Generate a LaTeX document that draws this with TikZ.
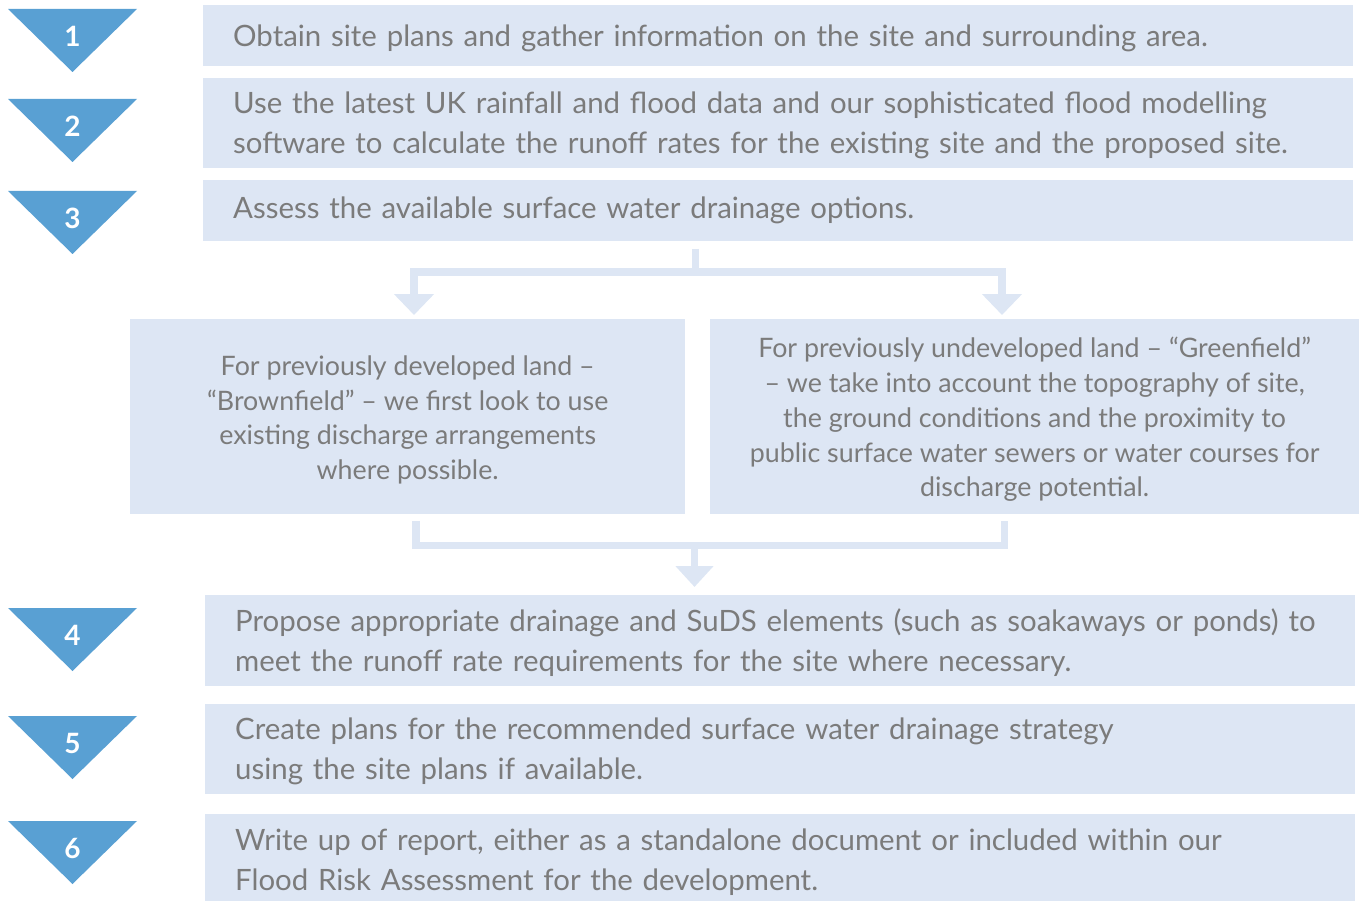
\documentclass[tikz,border=0pt]{standalone}
\usepackage{fontspec}
\setmainfont{Lato}
\usepackage{xcolor}
\usepackage{tikz}
\usetikzlibrary{positioning, arrows.meta}
\definecolor{paleblue}{HTML}{DDE6F4}
\definecolor{stepblue}{HTML}{59A0D3}
\definecolor{textgrey}{HTML}{7B7B7B}

\begin{document}
\begin{tikzpicture}[
    x=1pt, y=-1pt,
    % Step boxes on the right
    stepbox/.style={
        rectangle,
        fill=paleblue,
        anchor=north west,
        minimum width=1150pt,
        text width=1090pt,
        inner xsep=30pt,
        inner ysep=0pt,
        align=left,
        text=textgrey,
        font=\fontsize{29.4}{40}\selectfont,
        text height=22pt,
        text depth=0pt
    },
    % The two land options
    choicebox/.style={
        rectangle,
        fill=paleblue,
        anchor=north west,
        minimum height=195pt,
        inner sep=0pt,
        align=center,
        text=textgrey,
        font=\fontsize{26.8}{34.7}\selectfont,
        text depth=0pt
    },
    steptri/.style={fill=stepblue},
    stepnum/.style={text=white, font=\fontsize{28}{28}\selectfont\bfseries},
    flow/.style={
        draw=paleblue,
        line width=7.5pt,
        line join=miter,
        -{Triangle[width=39pt, length=21pt]}
    }
]
    \useasboundingbox (0,0) rectangle (1359,901);

    % Step boxes
    \node[stepbox, minimum height=61pt] (obtain) at (203,5) {Obtain site plans and gather information on the site and surrounding area.};
    \node[stepbox, minimum height=90pt, text depth=40pt, below=11pt of obtain] (runoff) {Use the latest UK rainfall and flood data and our sophisticated flood modelling\\software to calculate the runoff rates for the existing site and the proposed site.};
    \node[stepbox, minimum height=61pt, text height=16pt, below=12pt of runoff] (assess) {Assess the available surface water drainage options.};

    \node[choicebox, minimum width=555pt, text height=125.4pt] (brown) at (130,319) {For previously developed land –\\“Brownfield” – we first look to use\\existing discharge arrangements\\where possible.};
    \node[choicebox, minimum width=650pt, text height=160.1pt, right=24pt of brown] (green) {For previously undeveloped land – “Greenfield”\\– we take into account the topography of site,\\the ground conditions and the proximity to\\public surface water sewers or water courses for\\discharge potential.};

    \node[stepbox, minimum height=91pt, text depth=40pt] (propose) at (205,595) {Propose appropriate drainage and SuDS elements (such as soakaways or ponds) to\\meet the runoff rate requirements for the site where necessary.};
    \node[stepbox, minimum height=90pt, text depth=40pt, below=17pt of propose] (plans) {Create plans for the recommended surface water drainage strategy\\using the site plans if available.};
    \node[stepbox, minimum height=88pt, text depth=40pt, text height=24pt, below=20pt of plans] (report) {Write up of report, either as a standalone document or included within our\\Flood Risk Assessment for the development.};

    % Numbered triangles
    \foreach \n/\t in {1/9, 2/99, 3/191, 4/608, 5/716, 6/821} {
        \fill[steptri] (8,\t) -- (137,\t) -- (72.5,\t+63) -- cycle;
        \node[stepnum] (num\n) at (72.5,\t+27.5) {\n};
    }

    % Split and merge
    \coordinate (split) at (695.5,249);
    \coordinate (toBrown) at (414,315);
    \coordinate (toGreen) at (1002,315);
    \draw[flow] (split) -- ++(0,23) -| (toBrown);
    \draw[flow] (split) -- ++(0,23) -| (toGreen);

    \coordinate (legL) at (416,521);
    \coordinate (legR) at (1004.5,521);
    \coordinate (merge) at (694.5,545.5);
    \draw[flow, -] (legL) -- ++(0,24.5) -| (legR);
    \draw[flow, -{Triangle[width=37pt, length=21pt]}, shorten >=8pt] (merge) -- (merge |- propose.north);

\end{tikzpicture}
\end{document}
